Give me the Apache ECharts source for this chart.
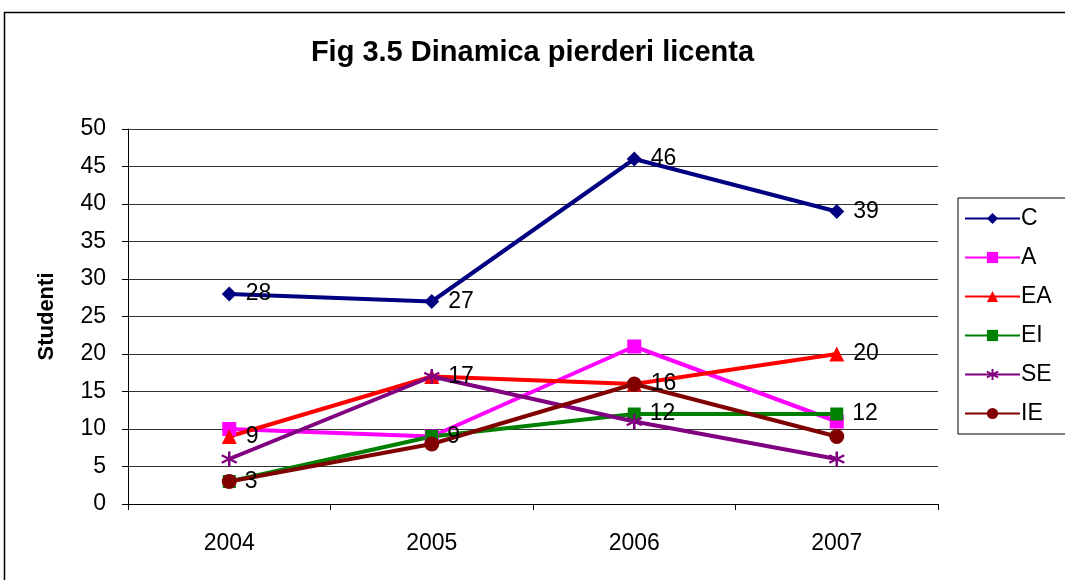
<!DOCTYPE html>
<html>
<head>
<meta charset="utf-8">
<script src="https://cdn.jsdelivr.net/npm/echarts@6/dist/echarts.min.js"></script>
<style>
  html, body { margin: 0; padding: 0; background: #fff; }
  #main { width: 1065px; height: 580px; }
</style>
</head>
<body>
<div id="main"></div>
<script>
var years = ['2004', '2005', '2006', '2007'];
var names = ['C', 'A', 'EA', 'EI', 'SE', 'IE'];
var valC = [28, 27, 46, 39];
var valA = [10, 9, 21, 11];
var valEA = [9, 17, 16, 20];
var valEI = [3, 9, 12, 12];
var valSE = [6, 17, 11, 6];
var valIE = [3, 8, 16, 9];

var chart = echarts.init(document.getElementById('main'));

var font = 'Liberation Sans, Arial, sans-serif';
var star = 'path://M0,-10L0,10M-9,-5L9,5M-9,5L9,-5';

function mk(name, data, color, symbol, size, showLabel) {
	return {
		name: name,
		type: 'line',
		data: data,
		symbol: symbol,
		symbolSize: size,
		lineStyle: { color: color, width: 4 },
		itemStyle: { color: color, borderColor: color, borderWidth: symbol === star ? 2.5 : 0 },
		label: {
			show: showLabel,
			position: 'right',
			distance: 9,
			color: '#000',
			fontSize: 23,
			fontFamily: font
		},
		animation: false
	};
}

var option = {
	backgroundColor: '#fff',
	title: {
		text: 'Fig 3.5 Dinamica pierderi licenta',
		left: 'center',
		top: 33,
		textStyle: { fontSize: 29, fontWeight: 'bold', color: '#000', fontFamily: font }
	},
	graphic: [{
		type: 'rect',
		shape: { x: 4.5, y: 12.5, width: 1100, height: 600 },
		style: { fill: null, stroke: '#000', lineWidth: 1.5 },
		silent: true
	}],
	legend: {
		orient: 'vertical',
		left: 958,
		top: 198,
		padding: [9, 40, 9, 6],
		borderColor: '#000',
		borderWidth: 1,
		itemWidth: 55,
		itemHeight: 14,
		itemGap: 16,
		data: names,
		textStyle: { fontSize: 23, color: '#000', fontFamily: font, padding: [0, 0, 0, -4] }
	},
	grid: { left: 128, right: 127, top: 129, bottom: 76 },
	xAxis: {
		type: 'category',
		data: years,
		boundaryGap: true,
		axisLine: { lineStyle: { color: '#000', width: 1 } },
		axisTick: { show: true, length: 6, lineStyle: { color: '#000' } },
		axisLabel: { fontSize: 23, color: '#000', fontFamily: font, margin: 28 }
	},
	yAxis: {
		type: 'value',
		min: 0,
		max: 50,
		interval: 5,
		name: 'Studenti',
		nameLocation: 'middle',
		nameGap: 70,
		nameTextStyle: { fontSize: 22, fontWeight: 'bold', color: '#000', fontFamily: font },
		axisLine: { show: true, lineStyle: { color: '#000', width: 1 } },
		axisTick: { show: true, length: 6, lineStyle: { color: '#000' } },
		axisLabel: { fontSize: 23, color: '#000', fontFamily: font, margin: 22 },
		splitLine: { lineStyle: { color: '#333', width: 1 } }
	},
	series: [
		mk('C', valC, '#000080', 'diamond', 15, true),
		mk('A', valA, '#ff00ff', 'rect', 14, false),
		mk('EA', valEA, '#ff0000', 'triangle', 15, true),
		mk('EI', valEI, '#008000', 'rect', 13, true),
		mk('SE', valSE, '#800080', star, 15, false),
		mk('IE', valIE, '#800000', 'circle', 15, false)
	]
};
chart.setOption(option);
</script>
</body>
</html>
